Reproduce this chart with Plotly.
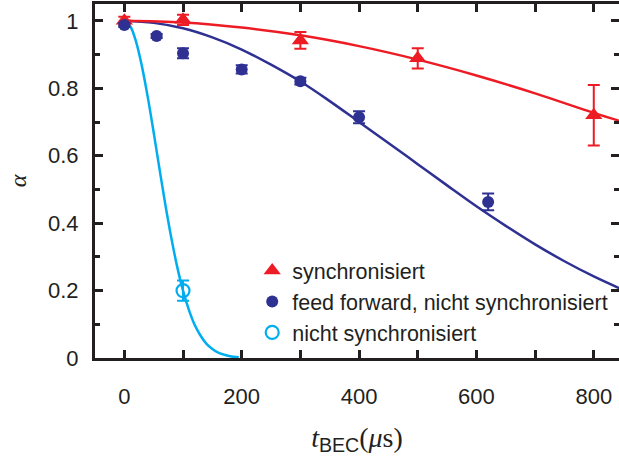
import plotly.graph_objects as go

# synchronisiert (red triangles)
sync_t = [0, 100, 300, 500, 800]
sync_a = [1.0, 1.003, 0.942, 0.889, 0.72]
sync_err = [0.012, 0.015, 0.025, 0.03, 0.09]

# feed forward, nicht synchronisiert (dark blue filled circles)
ff_t = [0, 55, 100, 200, 300, 400, 620]
ff_a = [0.988, 0.955, 0.904, 0.856, 0.821, 0.714, 0.463]
ff_err = [0.006, 0.006, 0.015, 0.012, 0.01, 0.018, 0.025]

# nicht synchronisiert (light blue open circle)
ns_t = [100]
ns_a = [0.2]
ns_err = [0.03]

# fit curves
sync_fit_t = [0, 100, 200, 300, 400, 500, 600, 700, 800, 850]
sync_fit_a = [1.0, 0.995, 0.98, 0.957, 0.925, 0.885, 0.838, 0.785, 0.727, 0.70]

ff_fit_t = [0, 50, 100, 150, 200, 250, 300, 350, 400, 450, 500, 550, 600, 650, 700, 750, 800, 850]
ff_fit_a = [1.0, 0.994, 0.978, 0.951, 0.915, 0.87, 0.82, 0.762, 0.70, 0.638, 0.575, 0.512,
            0.45, 0.392, 0.337, 0.287, 0.242, 0.202]

ns_fit_t = [0, 10, 20, 30, 40, 50, 60, 70, 80, 90, 100, 110, 120, 130, 140, 150, 160, 170, 180, 195]
ns_fit_a = [1.0, 0.984, 0.938, 0.865, 0.773, 0.669, 0.56, 0.454, 0.357, 0.271, 0.20, 0.143,
            0.098, 0.066, 0.042, 0.027, 0.016, 0.01, 0.005, 0.002]

x_ticks = [0, 200, 400, 600, 800]
y_ticks = [0, 0.2, 0.4, 0.6, 0.8, 1.0]
y_ticktext = ["0", "0.2", "0.4", "0.6", "0.8", "1"]

RED = "#ED1C24"
BLUE = "#2E3192"
CYAN = "#00AEEF"
INK = "#231F20"
FONT = "Liberation Sans"
SERIF = "Liberation Serif"

fig = go.Figure()

fig.add_trace(go.Scatter(x=ns_fit_t, y=ns_fit_a, mode="lines", line=dict(color=CYAN, width=2.5, shape="spline"),
                         showlegend=False, hoverinfo="skip"))
fig.add_trace(go.Scatter(x=ff_fit_t, y=ff_fit_a, mode="lines", line=dict(color=BLUE, width=2.5, shape="spline"),
                         showlegend=False, hoverinfo="skip"))
fig.add_trace(go.Scatter(x=sync_fit_t, y=sync_fit_a, mode="lines", line=dict(color=RED, width=2.5, shape="spline"),
                         showlegend=False, hoverinfo="skip"))

fig.add_trace(go.Scatter(x=sync_t, y=sync_a, mode="markers", name="synchronisiert",
                         marker=dict(symbol="triangle-up", size=15, color=RED),
                         error_y=dict(type="data", array=sync_err, color=RED, thickness=2, width=6)))
fig.add_trace(go.Scatter(x=ff_t, y=ff_a, mode="markers", name="feed forward, nicht synchronisiert",
                         marker=dict(symbol="circle", size=12, color=BLUE),
                         error_y=dict(type="data", array=ff_err, color=BLUE, thickness=2, width=6)))
fig.add_trace(go.Scatter(x=ns_t, y=ns_a, mode="markers", name="nicht synchronisiert",
                         marker=dict(symbol="circle-open", size=13, color=CYAN, line=dict(width=2.2)),
                         error_y=dict(type="data", array=ns_err, color=CYAN, thickness=2, width=6)))

# invisible trace on the mirrored right axis
fig.add_trace(go.Scatter(x=[0], y=[0], yaxis="y2", mode="markers", marker=dict(opacity=0),
                         showlegend=False, hoverinfo="skip"))

xtitle = (f"<i>t</i><sub><span style='font-family:{FONT}'>BEC</span></sub>(<i>μ</i>s)")

fig.update_layout(
    width=619, height=461,
    margin=dict(l=95, r=0, t=4, b=103),
    paper_bgcolor="white", plot_bgcolor="white",
    font=dict(family=FONT, size=22, color=INK),
    showlegend=True,
    legend=dict(x=0.3, y=0.305, xanchor="left", yanchor="top", bgcolor="rgba(0,0,0,0)",
                font=dict(size=21.5, color=INK), itemwidth=30, tracegroupgap=0),
    xaxis=dict(range=[-50, 843], showgrid=False, zeroline=False, showline=True, linewidth=3,
               linecolor=INK, mirror="allticks", ticks="inside", ticklen=8, tickwidth=2.5,
               tickcolor=INK, tickvals=x_ticks, ticklabelstandoff=17,
               minor=dict(dtick=100, tick0=0, ticks="inside", ticklen=5, tickwidth=2.5, tickcolor=INK),
               title=dict(text=xtitle, standoff=19,
                          font=dict(size=28, family=SERIF, color=INK))),
    yaxis=dict(range=[0, 1.05], showgrid=False, zeroline=False, showline=True, linewidth=3,
               linecolor=INK, ticks="inside", ticklen=8, tickwidth=2.5, tickcolor=INK,
               tickvals=y_ticks, ticktext=y_ticktext, ticklabelstandoff=9,
               minor=dict(dtick=0.1, tick0=0, ticks="inside", ticklen=5, tickwidth=2.5, tickcolor=INK),
               title=dict(text="<i>α</i>", standoff=15, font=dict(size=24, family=SERIF, color=INK))),
    yaxis2=dict(range=[0, 1.05], overlaying="y", side="right", showgrid=False, zeroline=False,
                showline=False, ticks="inside", ticklen=8, tickwidth=2.5, tickcolor=INK,
                tickvals=y_ticks, showticklabels=False,
                minor=dict(dtick=0.1, tick0=0, ticks="inside", ticklen=5, tickwidth=2.5, tickcolor=INK)),
)

fig.write_html("out.html")
